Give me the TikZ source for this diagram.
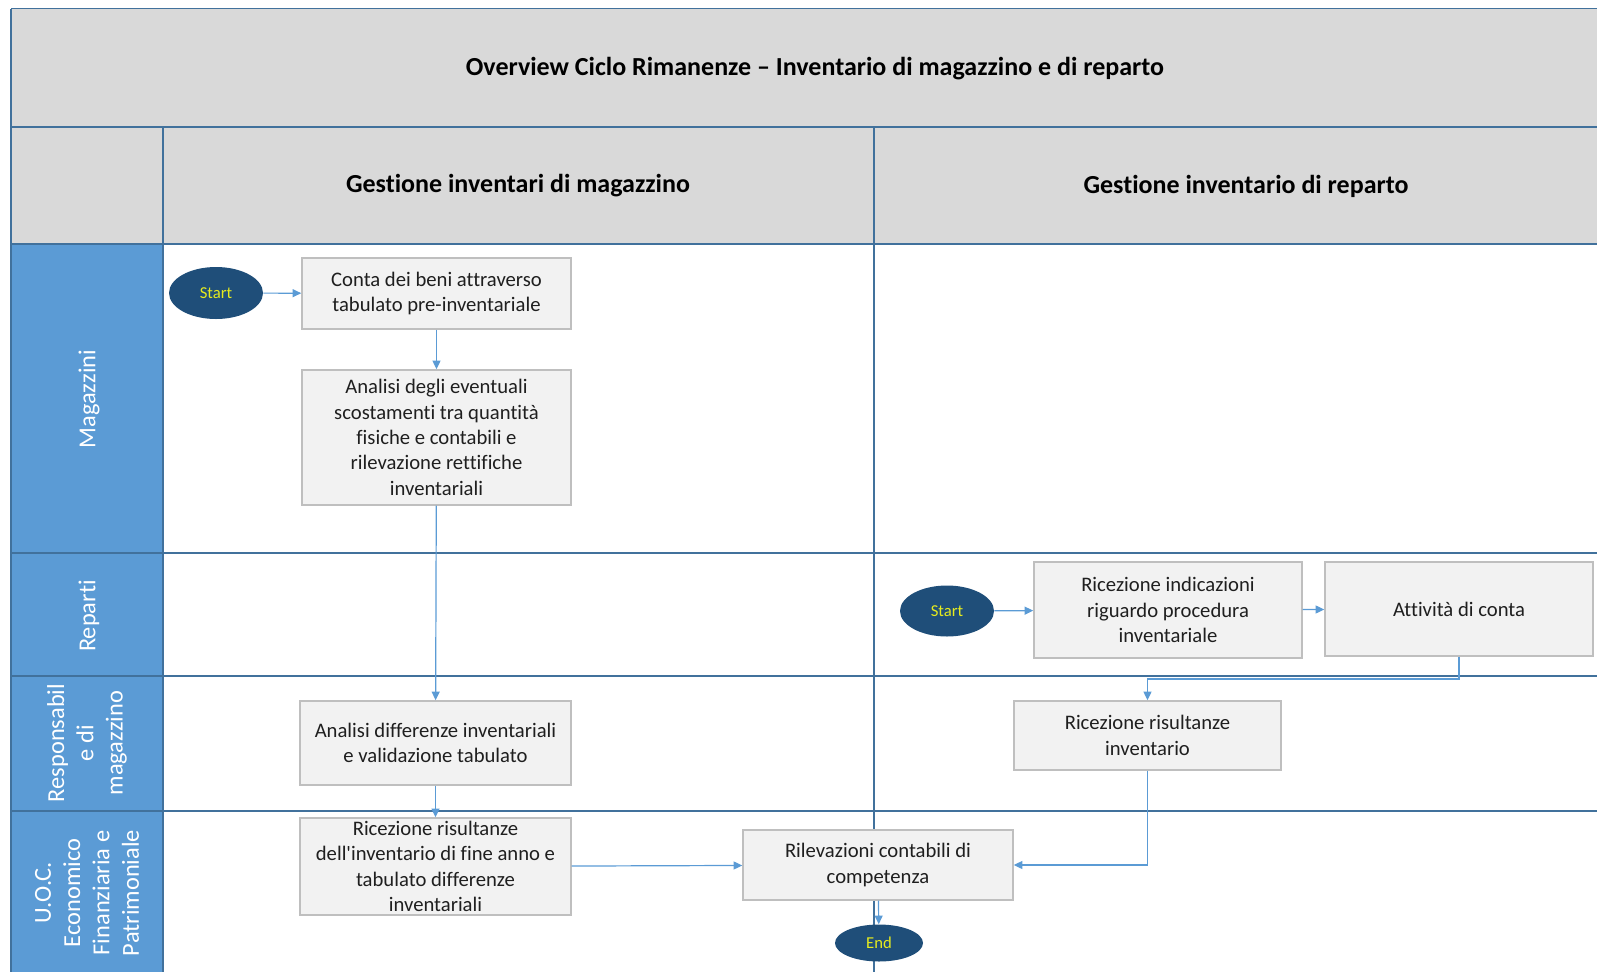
\documentclass[tikz,border=0pt]{standalone}
\usepackage{fontspec}
\setmainfont{Carlito}[Ligatures={TeX,NoCommon}]
\usetikzlibrary{shapes.geometric,arrows.meta}

\definecolor{grigio}{HTML}{D9D9D9}
\definecolor{corsia}{HTML}{5B9BD5}
\definecolor{bordo}{HTML}{41719C}
\definecolor{scatola}{HTML}{F2F2F2}
\definecolor{bordoscatola}{HTML}{BFBFBF}
\definecolor{ovale}{HTML}{1F4E79}
\definecolor{giallo}{RGB}{230,235,30}
\definecolor{freccia}{HTML}{5B9BD5}

\begin{document}
\begin{tikzpicture}[x=0.75pt,y=-0.75pt,
  attivita/.style 2 args={draw=bordoscatola,line width=1.1pt,fill=scatola,align=center,
    minimum width=#1*0.75pt,minimum height=#2*0.75pt,inner sep=0pt,
    font=\fontsize{15.5}{19}\selectfont,text=black!88},
  terminale/.style 2 args={ellipse,fill=ovale,text=giallo,inner sep=0pt,
    minimum width=#1*0.75pt,minimum height=#2*0.75pt,font=\fontsize{12.5}{15}\selectfont},
  flusso/.style={draw=freccia,line width=0.9pt,-{Triangle[length=6.5pt,width=6pt]}},
  linea/.style={draw=bordo,line width=1.4pt},
  corsiatesto/.style={rotate=90,text=white,align=center,font=\fontsize{18.3}{22}\selectfont},
  intestazione/.style={font=\bfseries\fontsize{19.5}{23}\selectfont}]

  % Cornice e sfondi
  \useasboundingbox (0,0) rectangle (1597,972);
  \fill[grigio] (11,8.5) rectangle (1597,244);
  \fill[corsia] (11,244) rectangle (163,972);

  % Righe e colonne
  \foreach \y in {8.5,127,244,553,676,811}
    \draw[linea] (11,\y) -- (1597,\y);
  \draw[linea] (11,8.5) -- (11,972);
  \foreach \x in {163,874}
    \draw[linea] (\x,127) -- (\x,972);

  % Intestazioni
  \node[intestazione] (titolo) at (815,69) {Overview Ciclo Rimanenze -- Inventario di magazzino e di reparto};
  \node[intestazione] (colmagazzino) at (518,186) {Gestione inventari di magazzino};
  \node[intestazione] (colreparto) at (1246,186) {Gestione inventario di reparto};

  % Corsie
  \node[corsiatesto] (magazzini) at (89,399) {Magazzini};
  \node[corsiatesto] (reparti) at (89,616) {Reparti};
  \node[corsiatesto] (responsabili) at (87,743) {Responsabil\\e di\\magazzino};
  \node[corsiatesto] (uoc) at (87,893) {U.O.C.\\Economico\\Finanziaria e\\Patrimoniale};

  % Attivita' di magazzino
  \node[terminale={94}{52}] (start1) at (216,293) {Start};
  \node[attivita={269}{71}] (conta) at (436.5,293.5) {Conta dei beni attraverso\\tabulato pre-inventariale};
  \node[attivita={269}{135}] (analisi) at (436.5,437.5) {Analisi degli eventuali\\scostamenti tra quantità\\fisiche e contabili e\\rilevazione rettifiche\\inventariali};
  \node[attivita={271}{84}] (differenze) at (435.5,743) {Analisi differenze inventariali\\e validazione tabulato};
  \node[attivita={271}{97}] (risultanze) at (435.5,866.5) {Ricezione risultanze\\dell\textquotesingle inventario di fine anno e\\tabulato differenze\\inventariali};
  \node[attivita={270}{70}] (rilevazioni) at (878,865) {Rilevazioni contabili di\\competenza};
  \node[terminale={88}{37}] (fine) at (879,943) {End};

  % Attivita' di reparto
  \node[terminale={94}{51}] (start2) at (947,611) {Start};
  \node[attivita={268}{96}] (indicazioni) at (1168,610) {Ricezione indicazioni\\riguardo procedura\\inventariale};
  \node[attivita={268}{94}] (contareparto) at (1459,609) {Attività di conta};
  \node[attivita={267}{69}] (ricinventario) at (1147.5,735.5) {Ricezione risultanze\\inventario};
  \coordinate (gomito) at (1459,679);

  % Flussi
  \draw[flusso] (start1) -- (conta);
  \draw[flusso] (conta) -- (analisi);
  \draw[flusso] (analisi) -- (differenze);
  \draw[flusso] (differenze) -- (risultanze);
  \draw[flusso] (risultanze) -- (rilevazioni);
  \draw[flusso] (rilevazioni) -- (fine);
  \draw[flusso] (start2) -- (indicazioni);
  \draw[flusso] (indicazioni) -- (contareparto);
  \draw[flusso] (contareparto.south) -- (gomito) -| (ricinventario.north);
  \draw[flusso] (ricinventario.south) |- (rilevazioni.east);
\end{tikzpicture}
\end{document}
